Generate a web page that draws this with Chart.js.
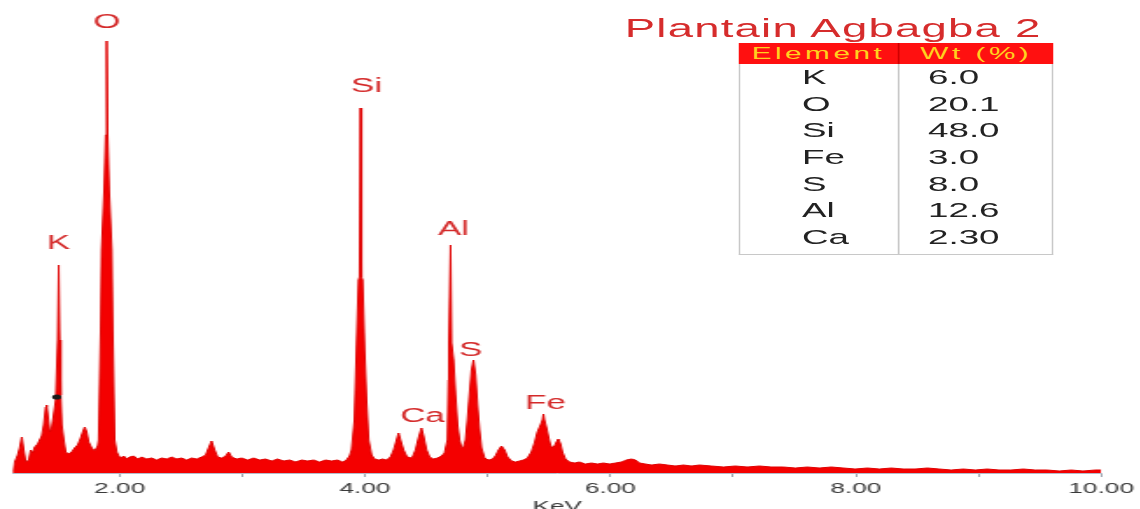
<!DOCTYPE html>
<html>
<head>
<meta charset="utf-8">
<title>Plantain Agbagba 2 - EDS spectrum</title>
<script src="https://cdn.jsdelivr.net/npm/chart.js@4.4.1/dist/chart.umd.min.js"></script>
<style>
    html, body { margin: 0; padding: 0; background: #fff; overflow: hidden; }
    /* the source figure is stretched sideways, so the whole stage is too */
    #stage {
        position: absolute; left: 0; top: 0;
        width: 651.43px; height: 509px;
        transform: scaleX(1.75); transform-origin: 0 0;
        font-family: "Liberation Sans", Arial, sans-serif;
    }
    #spectrum { position: absolute; left: 0; top: 0; }
    #title {
        position: absolute; left: 357px; top: 14.6px;
        font-size: 26px; line-height: 26px; letter-spacing: 0.7px;
        color: #d62c2c; white-space: nowrap;
    }
    #tbl { position: absolute; left: 422.3px; top: 43px; width: 179.4px; }
    #tbl .hdr { height: 21px; background: #ff1010; display: flex; }
    #tbl .hdr div {
        font-size: 17px; line-height: 21px; letter-spacing: 2px;
        color: #ffd21f; text-align: center;
    }
    #tbl .hdr .c1 { width: 90.8px; }
    #tbl .hdr .c2 { flex: 1; border-left: 1px solid #d00000; }
    #tbl .body {
        position: relative; height: 191px; box-sizing: border-box;
        border: 1px solid #c8c8c8; border-top: none;
    }
    #tbl .divider { position: absolute; left: 89.8px; top: 0; bottom: 0; width: 1px; background: #c8c8c8; }
    #tbl .cell {
        position: absolute; font-size: 21px; line-height: 26.67px;
        height: 26.67px; color: #222; white-space: nowrap;
    }
</style>
</head>
<body>
<div id="stage">
    <canvas id="spectrum" width="651" height="509"></canvas>
    <div id="title"></div>
    <div id="tbl">
        <div class="hdr"><div class="c1" id="hdrElement"></div><div class="c2" id="hdrWeight"></div></div>
        <div class="body" id="tblBody"><div class="divider"></div></div>
    </div>
</div>
<script>
// spectrum (energy in keV, counts on an arbitrary scale)
const energyKeV = [
    1.128, 1.145, 1.169, 1.185, 1.202, 1.218, 1.234, 1.259, 1.275, 1.291,
    1.308, 1.332, 1.348, 1.365, 1.381, 1.397, 1.405, 1.414, 1.430, 1.446,
    1.462, 1.479, 1.495, 1.503, 1.511, 1.519, 1.528, 1.544, 1.560, 1.585,
    1.609, 1.633, 1.658, 1.682, 1.699, 1.715, 1.731, 1.747, 1.772, 1.796,
    1.821, 1.829, 1.845, 1.853, 1.874, 1.886, 1.894, 1.902, 1.914, 1.935,
    1.943, 1.959, 1.976, 1.992,
    2.008, 2.033, 2.057, 2.081, 2.114, 2.147, 2.179, 2.220, 2.261, 2.301,
    2.342, 2.383, 2.424, 2.464, 2.505, 2.546, 2.587, 2.627, 2.668, 2.701,
    2.725, 2.749, 2.774, 2.798, 2.831, 2.864, 2.888, 2.912, 2.953, 2.994,
    3.043, 3.092, 3.141, 3.189, 3.238, 3.287, 3.336, 3.385, 3.434, 3.483,
    3.532, 3.580, 3.629, 3.678, 3.727, 3.776, 3.817, 3.849, 3.874, 3.890,
    3.914, 3.930, 3.947, 3.955, 3.963, 3.971, 3.980, 3.996,
    4.012, 4.029, 4.053, 4.077, 4.110, 4.143, 4.175, 4.208, 4.233, 4.257,
    4.273, 4.289, 4.314, 4.338, 4.363, 4.387, 4.411, 4.436, 4.460, 4.477,
    4.501, 4.526, 4.558, 4.591, 4.623, 4.648, 4.672, 4.680, 4.684, 4.697,
    4.705, 4.721, 4.737, 4.754, 4.770, 4.787, 4.803, 4.819, 4.835, 4.851,
    4.868, 4.884, 4.900, 4.916, 4.933, 4.949, 4.974,
    5.006, 5.039, 5.063, 5.088, 5.112, 5.137, 5.161, 5.194, 5.226, 5.259,
    5.291, 5.324, 5.356, 5.381, 5.405, 5.430, 5.446, 5.454, 5.462, 5.479,
    5.495, 5.511, 5.527, 5.544, 5.560, 5.576, 5.593, 5.609, 5.633, 5.666,
    5.707, 5.747, 5.796, 5.845, 5.894, 5.943, 5.992,
    6.041, 6.090, 6.130, 6.171, 6.204, 6.236, 6.285, 6.334, 6.399, 6.464,
    6.530, 6.595, 6.660, 6.725, 6.823, 6.921,
    7.018, 7.116, 7.214, 7.312, 7.409, 7.507, 7.605, 7.703, 7.800, 7.898, 7.996,
    8.094, 8.192, 8.289, 8.387, 8.485, 8.583, 8.680, 8.778, 8.876, 8.974,
    9.071, 9.169, 9.267, 9.365, 9.462, 9.560, 9.658, 9.756, 9.853, 9.951, 10.0
];
const counts = [
    0, 110, 180, 250, 360, 230, 110, 130, 230, 200,
    260, 290, 330, 370, 480, 660, 680, 580, 410, 450,
    580, 730, 1330, 2080, 1330, 780, 480, 330, 210, 190,
    210, 250, 280, 350, 410, 460, 410, 310, 250, 220,
    270, 330, 1430, 2230, 2830, 3380, 4320, 3380, 2830, 2230,
    1430, 330, 210, 170,
    150, 170, 140, 160, 170, 140, 160, 140, 150, 130,
    150, 140, 160, 140, 150, 130, 150, 140, 160, 180,
    250, 320, 230, 160, 150, 170, 210, 160, 140, 150,
    130, 150, 130, 140, 120, 140, 120, 130, 110, 130,
    120, 130, 110, 130, 120, 130, 110, 130, 170, 230,
    530, 1230, 1930, 1960, 3650, 1960, 1930, 1230,
    730, 330, 180, 140, 130, 140, 130, 160, 230, 330,
    400, 330, 230, 170, 150, 160, 230, 350, 450, 370,
    230, 160, 140, 150, 170, 200, 330, 930, 1300, 2280,
    1300, 1130, 780, 480, 330, 250, 260, 330, 530, 780,
    1030, 1130, 980, 680, 430, 250, 150,
    130, 140, 170, 230, 270, 230, 160, 120, 110, 120,
    130, 150, 210, 300, 410, 480, 530, 590, 530, 450,
    360, 280, 250, 270, 310, 340, 290, 210, 140, 110,
    100, 110, 90, 100, 90, 100, 90,
    100, 110, 130, 140, 130, 100, 90, 80, 90, 80,
    70, 80, 70, 80, 70, 60,
    70, 60, 70, 60, 60, 50, 60, 50, 60, 50, 40,
    50, 40, 50, 40, 40, 50, 40, 30, 40, 30,
    40, 30, 30, 40, 30, 30, 20, 30, 20, 30, 30
];

// the little black dot on the K peak
const markerKeV = [1.487];
const markerCounts = [760];

// peak names and where they sit
const peakNames = ['O', 'K', 'Si', 'Al', 'S', 'Ca', 'Fe'];
const peakLabelKeV = [1.894, 1.50, 4.012, 4.721, 4.859, 4.468, 5.470];
const peakLabelCounts = [4450, 2240, 3810, 2380, 1170, 510, 640];

// composition table
const chartTitle = 'Plantain Agbagba 2';
const tableHeaders = ['Element', 'Wt (%)'];
const tableElements = ['K', 'O', 'Si', 'Fe', 'S', 'Al', 'Ca'];
const tableWeights = ['6.0', '20.1', '48.0', '3.0', '8.0', '12.6', '2.30'];

const FONT = '"Liberation Sans", Arial, sans-serif';

document.getElementById('title').textContent = chartTitle;
document.getElementById('hdrElement').textContent = tableHeaders[0];
document.getElementById('hdrWeight').textContent = tableHeaders[1];

const tblBody = document.getElementById('tblBody');
tableElements.forEach((el, i) => {
    const a = document.createElement('div');
    a.className = 'cell';
    a.style.left = '35px';
    a.style.top = (i * 26.67) + 'px';
    a.textContent = el;
    tblBody.appendChild(a);

    const b = document.createElement('div');
    b.className = 'cell';
    b.style.left = '107px';
    b.style.top = (i * 26.67) + 'px';
    b.textContent = tableWeights[i];
    tblBody.appendChild(b);
});

const peakLabels = {
    id: 'peakLabels',
    afterDatasetsDraw(chart) {
        const { ctx, scales: { x, y } } = chart;
        ctx.save();
        ctx.font = '20px ' + FONT;
        ctx.fillStyle = '#d42a2a';
        ctx.textAlign = 'center';
        ctx.textBaseline = 'alphabetic';
        peakNames.forEach((name, i) => {
            ctx.fillText(name, x.getPixelForValue(peakLabelKeV[i]), y.getPixelForValue(peakLabelCounts[i]));
        });
        ctx.restore();
    }
};

const ctx = document.getElementById('spectrum').getContext('2d');
new Chart(ctx, {
    type: 'line',
    data: {
        datasets: [
            {
                label: 'marker',
                type: 'scatter',
                data: markerKeV.map((e, i) => ({ x: e, y: markerCounts[i] })),
                pointRadius: 2.6,
                pointBackgroundColor: '#1a1a1a',
                pointBorderWidth: 0,
                order: 0
            },
            {
                label: 'Spectrum',
                data: energyKeV.map((e, i) => ({ x: e, y: counts[i] })),
                fill: 'origin',
                backgroundColor: '#f40000',
                borderColor: '#e00000',
                borderWidth: 1,
                pointRadius: 0,
                tension: 0,
                order: 1
            }
        ]
    },
    options: {
        responsive: false,
        animation: false,
        events: [],
        layout: { padding: { left: 7.4, right: 21.7, top: 23, bottom: 0 } },
        plugins: { legend: { display: false }, tooltip: { enabled: false } },
        scales: {
            x: {
                type: 'linear',
                min: 1.13,
                max: 10,
                afterFit: (scale) => { scale.height = 36; },
                border: { display: true, color: '#b4bccb', width: 1 },
                grid: { display: true, drawOnChartArea: false, drawTicks: true, tickLength: 4, color: '#9aa3ad' },
                ticks: {
                    stepSize: 1,
                    includeBounds: false,
                    autoSkip: false,
                    maxRotation: 0,
                    padding: 3,
                    color: '#3a3a3a',
                    font: { size: 15, family: FONT },
                    callback: (v) => (v % 2 === 0 ? v.toFixed(2) : '')
                },
                title: {
                    display: true,
                    text: 'KeV',
                    color: '#3a3a3a',
                    font: { size: 15, family: FONT },
                    padding: { top: 0, bottom: -7 }
                }
            },
            y: { display: false, min: 0, max: 4500 }
        }
    },
    plugins: [peakLabels]
});
</script>
</body>
</html>
